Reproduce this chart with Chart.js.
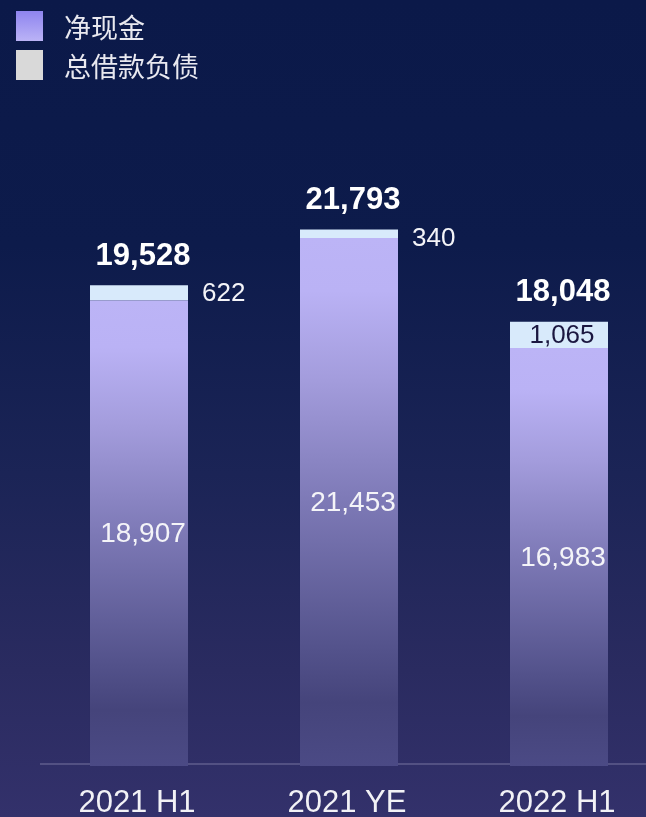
<!DOCTYPE html>
<html>
<head>
<meta charset="utf-8">
<script src="https://cdn.jsdelivr.net/npm/chart.js@4.4.0/dist/chart.umd.min.js"></script>
<style>
  html, body { margin: 0; padding: 0; width: 646px; height: 817px; overflow: hidden; }
  body { background: linear-gradient(180deg, #0b1949 0%, #0d1b4b 30%, #1b2456 58%, #2a2b60 82%, #33316b 100%); position: relative; }
  #wrap { position: absolute; left: 0; top: 0; width: 664px; height: 817px; }
  #legend { position: absolute; left: 16px; top: 6.5px; font-family: "Noto Sans CJK SC", "Noto Sans", sans-serif; font-size: 27px; color: #e9e9f0; }
  .item { display: flex; align-items: center; height: 39px; }
  .box { width: 27px; height: 30px; margin-right: 21px; }
</style>
</head>
<body>
<div id="wrap"><canvas id="c" width="664" height="817"></canvas></div>
<div id="legend"></div>
<script>
const categories = ["2021 H1", "2021 YE", "2022 H1"];
const seriesNames = ["净现金", "总借款负债"];
const netCash = [18907, 21453, 16983];
const borrowing = [622, 340, 1065];
const totals = [19528, 21793, 18048];

const fmt = v => v.toLocaleString('en-US');

// HTML legend built from series names
const legendColors = ["linear-gradient(180deg,#8e84ef,#bbb3f6)", "#d9d9d9"];
const lg = document.getElementById('legend');
seriesNames.forEach((n, i) => {
  const d = document.createElement('div'); d.className = 'item';
  const b = document.createElement('div'); b.className = 'box'; b.style.background = legendColors[i];
  const t = document.createElement('span'); t.textContent = n;
  d.appendChild(b); d.appendChild(t); lg.appendChild(d);
});

function netGradient(ctx) {
  const chart = ctx.chart;
  const { chartArea, scales } = chart;
  if (!chartArea || ctx.dataIndex === undefined) return '#bbb3f5';
  const v = netCash[ctx.dataIndex];
  const top = scales.y.getPixelForValue(v);
  const bottom = scales.y.getPixelForValue(0);
  const g = chart.ctx.createLinearGradient(0, top, 0, bottom);
  g.addColorStop(0, '#bcb4f6');
  g.addColorStop(0.1, '#bab2f5');
  g.addColorStop(0.27, '#a39cdc');
  g.addColorStop(0.5, '#7d79b6');
  g.addColorStop(0.78, '#53528b');
  g.addColorStop(0.88, '#45447b');
  g.addColorStop(1, '#4b4a85');
  return g;
}

const axisLine = {
  id: 'axisLine',
  beforeDatasetsDraw(chart) {
    const c = chart.ctx;
    const y = chart.chartArea.bottom - 2;
    c.save();
    c.strokeStyle = '#5f5e8c';
    c.lineWidth = 1.5;
    c.beginPath();
    c.moveTo(40, y);
    c.lineTo(chart.width, y);
    c.stroke();
    c.restore();
  }
};

const labels = {
  id: 'labels',
  afterDatasetsDraw(chart) {
    const c = chart.ctx;
    const m0 = chart.getDatasetMeta(0), m1 = chart.getDatasetMeta(1);
    const dx = 4;
    c.save();
    c.textBaseline = 'middle';
    m0.data.forEach((bar, i) => {
      c.fillStyle = '#f4f4f8';
      c.textAlign = 'center';
      c.font = '28px "Liberation Sans", Arial, sans-serif';
      c.fillText(fmt(netCash[i]), bar.x + dx, (bar.y + bar.base) / 2 + 1);

      const b1 = m1.data[i];
      const h = b1.base - b1.y;
      c.font = '26px "Liberation Sans", Arial, sans-serif';
      if (h > 20) {
        c.fillStyle = '#1b1740';
        c.textAlign = 'center';
        c.fillText(fmt(borrowing[i]), b1.x + dx - 1, (b1.y + b1.base) / 2 + 1);
      } else {
        c.fillStyle = '#f4f4f8';
        c.textAlign = 'left';
        c.fillText(fmt(borrowing[i]), b1.x + b1.width / 2 + 14, b1.y + 9);
      }
      c.fillStyle = '#ffffff';
      c.textAlign = 'center';
      c.font = 'bold 31px "Liberation Sans", Arial, sans-serif';
      c.fillText(fmt(totals[i]), b1.x + dx, b1.y - 29);
    });
    c.restore();
  }
};

new Chart(document.getElementById('c'), {
  type: 'bar',
  data: {
    labels: categories,
    datasets: [
      { label: seriesNames[0], data: netCash, backgroundColor: netGradient, borderWidth: 0 },
      { label: seriesNames[1], data: borrowing, backgroundColor: '#d8eafb', borderWidth: 0 }
    ]
  },
  options: {
    responsive: false,
    animation: false,
    devicePixelRatio: 1,
    layout: { padding: { left: 34, right: 0, top: 126, bottom: 0 } },
    datasets: { bar: { categoryPercentage: 1, barPercentage: 0.4667 } },
    plugins: { legend: { display: false }, tooltip: { enabled: false } },
    scales: {
      x: {
        stacked: true,
        grid: { display: false, drawTicks: false },
        border: { display: false },
        ticks: { color: '#f2f2f6', font: { size: 31, family: '"Liberation Sans", Arial, sans-serif' }, padding: 19, labelOffset: -2 },
        afterFit: s => { s.height = 51; }
      },
      y: {
        stacked: true,
        display: false,
        min: 0,
        max: 26000
      }
    }
  },
  plugins: [axisLine, labels]
});
</script>
</body>
</html>
